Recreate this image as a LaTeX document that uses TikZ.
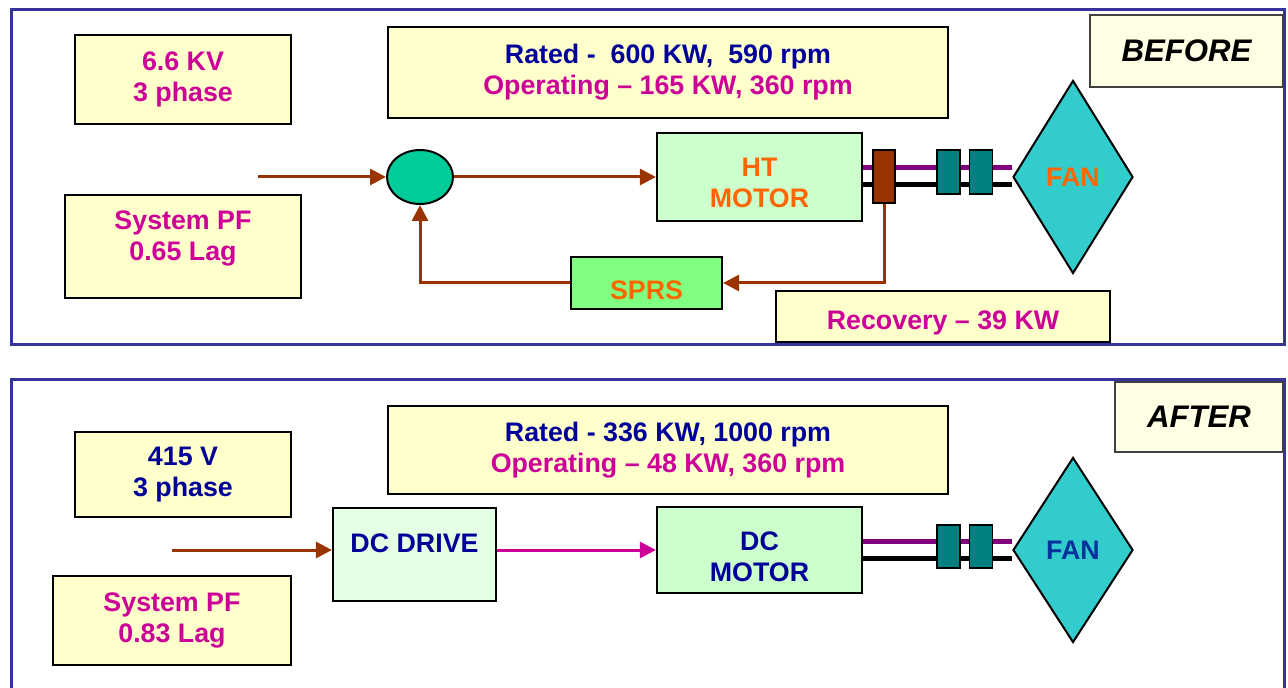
\documentclass[tikz,border=0pt]{standalone}
\usepackage{fontspec}
\setmainfont{Liberation Sans}
\usetikzlibrary{arrows.meta,shapes.geometric}

\definecolor{cream}{HTML}{FFFFCC}
\definecolor{paleyel}{HTML}{FFFFE5}
\definecolor{motorgrn}{HTML}{CCFFCC}
\definecolor{drivegrn}{HTML}{E5FFE5}
\definecolor{sprsgrn}{HTML}{80FF80}
\definecolor{sumgrn}{HTML}{00CC99}
\definecolor{rust}{HTML}{993300}
\definecolor{tealc}{HTML}{008080}
\definecolor{fancyan}{HTML}{33CCCC}
\definecolor{magent}{HTML}{CC0099}
\definecolor{navy}{HTML}{000099}
\definecolor{fanblue}{HTML}{003399}
\definecolor{orng}{HTML}{FF6600}
\definecolor{framec}{HTML}{333399}
\definecolor{purp}{HTML}{800080}

% move a line of text up/down without changing its box
\newcommand{\nudge}[2]{\raisebox{#1}[\height][\depth]{#2}}

\begin{document}
\begin{tikzpicture}[
  x=0.5pt, y=-0.5pt,
  txt/.style={font=\fontsize{13.4}{15.5}\selectfont\bfseries},
  box/.style={draw, line width=1.1pt, fill=cream, align=center, inner sep=0pt, txt},
  tag/.style={draw=black!75, line width=1.2pt, fill=paleyel, inner sep=0pt,
    font=\fontsize{15.6}{18}\selectfont\bfseries\itshape},
  coupler/.style={draw, line width=0.8pt, fill=tealc, inner sep=0pt, minimum width=11.5pt},
  fanbox/.style={draw, diamond, line width=1pt, fill=fancyan, inner sep=0pt, minimum width=60pt, txt},
  arr/.style={-{Triangle[length=8pt,width=8pt]}, line width=1.5pt, rust},
  shaftp/.style={line width=2.5pt, purp},
  shaftk/.style={line width=2.5pt, black},
  panel/.style={line width=1.5pt, framec}
]
\useasboundingbox (0,0) rectangle (1288,688);

% BEFORE
\draw[panel] (11,10) rectangle (1284,345);
\node[tag, minimum width=96.5pt, minimum height=36pt] (before) at (1186.5,51) {BEFORE};
\node[box, text=magent, minimum width=108pt, minimum height=44.5pt] (kvA) at (183,79.5) {6.6 KV\\3 phase};
\node[box, minimum width=280pt, minimum height=45.5pt] (ratedA) at (668,72.5)
  {\textcolor{navy}{Rated -\ \ 600 KW,\ \ 590 rpm}\\\textcolor{magent}{Operating -- 165 KW, 360 rpm}};
\node[box, text=magent, minimum width=118pt, minimum height=51.5pt] (pfA) at (183,246.5)
  {\nudge{4pt}{System PF}\\\nudge{4pt}{0.65 Lag}};
\node[draw, ellipse, line width=1pt, fill=sumgrn, minimum width=33pt, minimum height=27pt] (sum) at (420,177) {};
\node[box, fill=motorgrn, text=orng, minimum width=102.5pt, minimum height=44pt] (ht) at (759.5,177)
  {\nudge{-3pt}{HT}\\\nudge{-3pt}{MOTOR}};
\node[fanbox, text=orng, minimum height=96.5pt] (fanA) at (1073,177) {FAN};
\draw[shaftp] ([yshift=4.5pt]ht.east) -- ([yshift=4.5pt]fanA.west);
\draw[shaftk] ([yshift=-4pt]ht.east) -- ([yshift=-4pt]fanA.west);
\node[draw, line width=0.8pt, fill=rust, inner sep=0pt, minimum width=11pt, minimum height=26.5pt] (coup) at (884,176.5) {};
\node[coupler, minimum height=22pt] (cpA1) at (948.5,172) {};
\node[coupler, minimum height=22pt] (cpA2) at (981,172) {};
\node[box, fill=sprsgrn, text=orng, minimum width=75.5pt, minimum height=26pt] (sprs) at (646.5,283) {\nudge{-3.5pt}{SPRS}};
\node[box, text=magent, minimum width=167pt, minimum height=25.5pt] (recov) at (943,316.5) {\nudge{-3pt}{Recovery -- 39 KW}};

\coordinate (srcA) at (258,177);
\draw[arr] (srcA) -- (sum);
\draw[arr] (sum) -- (ht);
\draw[arr] (coup.south) |- (sprs.east);
\draw[arr] (sprs.west) -| (sum.south);

% AFTER
\draw[panel] (11,700) -- (11,380) -- (1284,380) -- (1284,700);
\node[tag, minimum width=84pt, minimum height=35pt] (after) at (1199,417) {AFTER};
\node[box, text=navy, minimum width=108pt, minimum height=42.5pt] (kvB) at (183,474.5) {415 V\\3 phase};
\node[box, minimum width=280pt, minimum height=44pt] (ratedB) at (668,450)
  {\textcolor{navy}{Rated - 336 KW, 1000 rpm}\\\textcolor{magent}{Operating -- 48 KW, 360 rpm}};
\node[box, text=magent, minimum width=119pt, minimum height=44.5pt] (pfB) at (172,620.5) {System PF\\0.83 Lag};
\node[box, fill=drivegrn, text=navy, minimum width=81.5pt, minimum height=46.5pt] (drive) at (414.5,554.5)
  {\nudge{5.5pt}{DC DRIVE}};
\node[box, fill=motorgrn, text=navy, minimum width=102.5pt, minimum height=43pt] (dcm) at (759.5,550)
  {\nudge{-3.5pt}{DC}\\\nudge{-3.5pt}{MOTOR}};
\node[fanbox, text=fanblue, minimum height=92.5pt] (fanB) at (1073,550) {FAN};
\draw[shaftp] ([yshift=4.5pt]dcm.east) -- ([yshift=4.5pt]fanB.west);
\draw[shaftk] ([yshift=-4pt]dcm.east) -- ([yshift=-4pt]fanB.west);
\node[coupler, minimum height=21.5pt] (cpB1) at (948.5,546.5) {};
\node[coupler, minimum height=21.5pt] (cpB2) at (981,546.5) {};

\coordinate (srcB) at (172,550);
\draw[arr] (srcB) -- (srcB -| drive.west);
\draw[arr, magent] (drive.east |- dcm.west) -- (dcm.west);
\end{tikzpicture}
\end{document}
